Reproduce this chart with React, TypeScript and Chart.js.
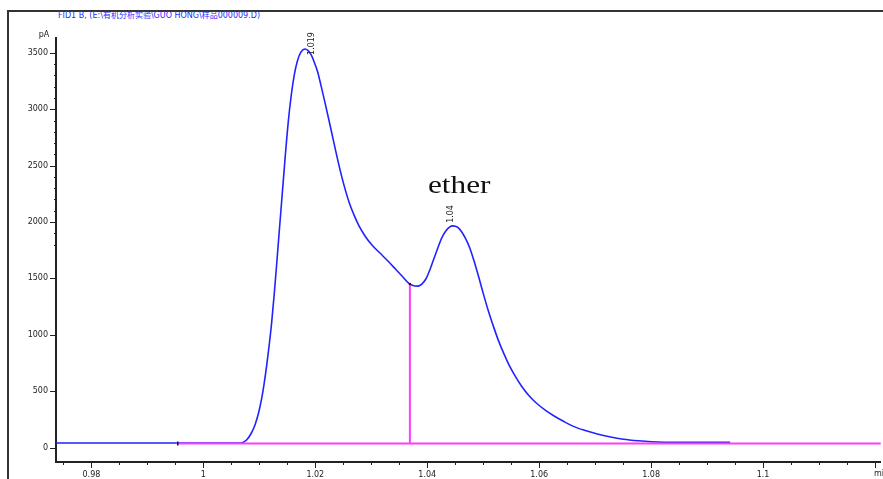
import React, { useEffect, useRef } from "react";
import { Chart, registerables } from "chart.js";

Chart.register(...registerables);

// ---- data ----
const signalX = [
  0.9737, 0.9954, 1.0067, 1.00767, 1.00856, 1.00927, 1.00989, 1.01043, 1.01087, 1.01132,
  1.01176, 1.01221, 1.01266, 1.0131, 1.01355, 1.01408, 1.01462, 1.01515, 1.01569, 1.01622,
  1.01676, 1.01738, 1.01818, 1.01871, 1.01925, 1.01978, 1.02041, 1.02103, 1.02174, 1.02246,
  1.02317, 1.02388, 1.0246, 1.02531, 1.02602, 1.02691, 1.02781, 1.02888, 1.03012, 1.03155,
  1.03298, 1.0344, 1.03565, 1.03672, 1.03743, 1.03832, 1.03903, 1.03975, 1.04046, 1.04117,
  1.04189, 1.0426, 1.04331, 1.04403, 1.04456, 1.04546, 1.04617, 1.04688, 1.0476, 1.04831,
  1.0492, 1.05009, 1.05098, 1.05187, 1.05276, 1.05365, 1.05454, 1.05561, 1.05686, 1.05811,
  1.05953, 1.06114, 1.06274, 1.06434, 1.06613, 1.06809, 1.07022, 1.07254, 1.07504, 1.07771,
  1.08003, 1.08484, 1.09412,
];
const signalY = [
  40, 40, 41, 65, 127, 207, 313, 438, 571, 731,
  909, 1113, 1361, 1628, 1912, 2241, 2578, 2880, 3120, 3298,
  3422, 3502, 3535, 3520, 3484, 3422, 3333, 3208, 3057, 2898,
  2738, 2578, 2427, 2294, 2178, 2063, 1965, 1876, 1796, 1725,
  1654, 1579, 1512, 1455, 1437, 1432, 1450, 1495, 1575, 1672,
  1770, 1859, 1921, 1957, 1966, 1953, 1912, 1850, 1770, 1663,
  1512, 1352, 1202, 1068, 944, 837, 740, 642, 544, 464,
  393, 330, 278, 233, 188, 153, 122, 96, 74, 60,
  52, 47, 47,
];
const baselineX = [0.99537, 1.1215];
const baselineY = [36, 36];
const dropX = [1.0369, 1.0369];
const dropY = [36, 1450];
const peakRT = [1.01818, 1.04456];
const peakHeight = [3535, 1966];
const peakLabels = ["1.019", "1.04"];

const xMin = 0.97367;
const xMax = 1.12103;
const yMin = -128;
const yMax = 3632;
const xMajorStep = 0.02;
const xMinorStep = 0.005;
const yMajorStep = 500;
const yMinorStep = 100;
const yLabelMax = 3500;
const yMinorFrom = 1800;
const xUnitAt = 1.12;

const titleText = "FID1 B, (E:\\有机分析实验\\GUO HONG\\样品000009.D)";
const yUnit = "pA";
const xUnit = "min";
const annotationText = "ether";

const isMultiple = (v: number, step: number) =>
  Math.abs(v / step - Math.round(v / step)) < 1e-6;

const TICK_FONT = "8px 'DejaVu Sans', sans-serif";

const decorPlugin = {
  id: "decor",
  afterDraw(chart: any) {
    const { ctx, scales, chartArea } = chart;
    const xs = scales.x;
    const ys = scales.y;
    ctx.save();
    ctx.strokeStyle = "#222";
    ctx.lineWidth = 1;
    // x tick marks
    xs.ticks.forEach((t: any) => {
      const px = Math.round(xs.getPixelForValue(t.value)) + 0.5;
      const len = isMultiple(t.value, xMajorStep) ? 6 : 3;
      ctx.beginPath();
      ctx.moveTo(px, chartArea.bottom);
      ctx.lineTo(px, chartArea.bottom + len);
      ctx.stroke();
    });
    // y tick marks
    ys.ticks.forEach((t: any) => {
      const v = t.value;
      let len = 0;
      if (v >= 0 && v <= yLabelMax && isMultiple(v, yMajorStep)) len = 6;
      else if (v >= yMinorFrom && v <= yLabelMax) len = 2;
      if (!len) return;
      const py = Math.round(ys.getPixelForValue(v)) + 0.5;
      ctx.beginPath();
      ctx.moveTo(chartArea.left, py);
      ctx.lineTo(chartArea.left - len, py);
      ctx.stroke();
    });
    // units
    ctx.fillStyle = "#222";
    ctx.font = TICK_FONT;
    ctx.textAlign = "center";
    ctx.textBaseline = "middle";
    ctx.fillText(yUnit, chartArea.left - 12, chartArea.top - 3);
    ctx.textAlign = "left";
    ctx.textBaseline = "top";
    ctx.fillText(xUnit, xs.getPixelForValue(xUnitAt) - 1, chartArea.bottom + 8);
    // peak retention-time labels (rotated)
    const offs = [
      [7, 6],
      [-2, -3],
    ];
    peakRT.forEach((rt, i) => {
      const px = xs.getPixelForValue(rt);
      const py = ys.getPixelForValue(peakHeight[i]);
      ctx.save();
      ctx.translate(px + offs[i][0], py + offs[i][1]);
      ctx.rotate(-Math.PI / 2);
      ctx.textAlign = "left";
      ctx.textBaseline = "middle";
      ctx.fillText(peakLabels[i], 0, 0);
      ctx.restore();
    });
    // integration event markers
    const bx = xs.getPixelForValue(baselineX[0]);
    const by = ys.getPixelForValue(baselineY[0]);
    ctx.fillStyle = "#111";
    ctx.fillRect(Math.round(bx), by - 2, 1.5, 4);
    const vx = xs.getPixelForValue(dropX[1]);
    const vy = ys.getPixelForValue(dropY[1]);
    ctx.fillRect(vx - 1, vy - 1, 2, 2);
    ctx.restore();
  },
};

export default function App() {
  const canvasRef = useRef<HTMLCanvasElement | null>(null);

  useEffect(() => {
    if (!canvasRef.current) return;
    const chart = new Chart(canvasRef.current, {
      type: "line",
      data: {
        datasets: [
          {
            data: baselineX.map((x, i) => ({ x, y: baselineY[i] })),
            borderColor: "#ff3cff",
            borderWidth: 2,
            pointRadius: 0,
            order: 0,
          },
          {
            data: dropX.map((x, i) => ({ x, y: dropY[i] })),
            borderColor: "#ff3cff",
            borderWidth: 2,
            pointRadius: 0,
            order: 0,
          },
          {
            data: signalX.map((x, i) => ({ x, y: signalY[i] })),
            borderColor: "#2222ff",
            borderWidth: 1.6,
            pointRadius: 0,
            cubicInterpolationMode: "monotone",
            order: 1,
          },
        ],
      },
      options: {
        animation: false,
        responsive: false,
        devicePixelRatio: 1,
        layout: { padding: { top: 38, left: 0, right: 0, bottom: 0 } },
        plugins: {
          legend: { display: false },
          tooltip: { enabled: false },
          title: { display: false },
        },
        scales: {
          x: {
            type: "linear",
            min: xMin,
            max: xMax,
            afterFit: (s: any) => {
              s.height = 17;
            },
            border: { display: true, color: "#222", width: 2 },
            grid: { display: false, drawTicks: false },
            ticks: {
              stepSize: xMinorStep,
              includeBounds: false,
              autoSkip: false,
              maxRotation: 0,
              padding: 8,
              color: "#222",
              font: { family: "'DejaVu Sans', sans-serif", size: 8 },
              callback: (v: any) =>
                isMultiple(Number(v), xMajorStep) && Number(v) < xUnitAt - 0.001
                  ? parseFloat(Number(v).toFixed(2)).toString()
                  : "",
            },
          },
          y: {
            type: "linear",
            min: yMin,
            max: yMax,
            afterFit: (s: any) => {
              s.width = 56;
            },
            border: { display: true, color: "#222", width: 2 },
            grid: { display: false, drawTicks: false },
            ticks: {
              stepSize: yMinorStep,
              includeBounds: false,
              autoSkip: false,
              padding: 8,
              color: "#222",
              font: { family: "'DejaVu Sans', sans-serif", size: 8 },
              callback: (v: any) => {
                const n = Number(v);
                return n >= 0 && n <= yLabelMax && isMultiple(n, yMajorStep)
                  ? String(n)
                  : "";
              },
            },
          },
        },
      },
      plugins: [decorPlugin],
    } as any);
    return () => chart.destroy();
  }, []);

  return (
    <div
      style={{
        position: "absolute",
        left: 0,
        top: 0,
        width: 883,
        height: 479,
        overflow: "hidden",
        background: "#fff",
      }}
    >
      <div
        style={{
          position: "absolute",
          left: 7,
          top: 10,
          width: 900,
          height: 500,
          borderTop: "2px solid #333",
          borderLeft: "2px solid #333",
        }}
      />
      <div
        style={{
          position: "absolute",
          left: 58,
          top: 12,
          fontFamily: "'DejaVu Sans', 'Noto Sans CJK SC', sans-serif",
          fontSize: 8,
          lineHeight: "8px",
          color: "#2a2aff",
          whiteSpace: "nowrap",
        }}
      >
        {titleText}
      </div>
      <canvas
        ref={canvasRef}
        width={883}
        height={479}
        style={{ position: "absolute", left: 0, top: 0 }}
      />
      <div
        style={{
          position: "absolute",
          left: 428,
          top: 172,
          fontFamily: "'Liberation Serif', 'Times New Roman', serif",
          fontSize: 25,
          lineHeight: "25px",
          color: "#111",
          transform: "scaleX(1.25)",
          transformOrigin: "left top",
          whiteSpace: "nowrap",
        }}
      >
        {annotationText}
      </div>
    </div>
  );
}
